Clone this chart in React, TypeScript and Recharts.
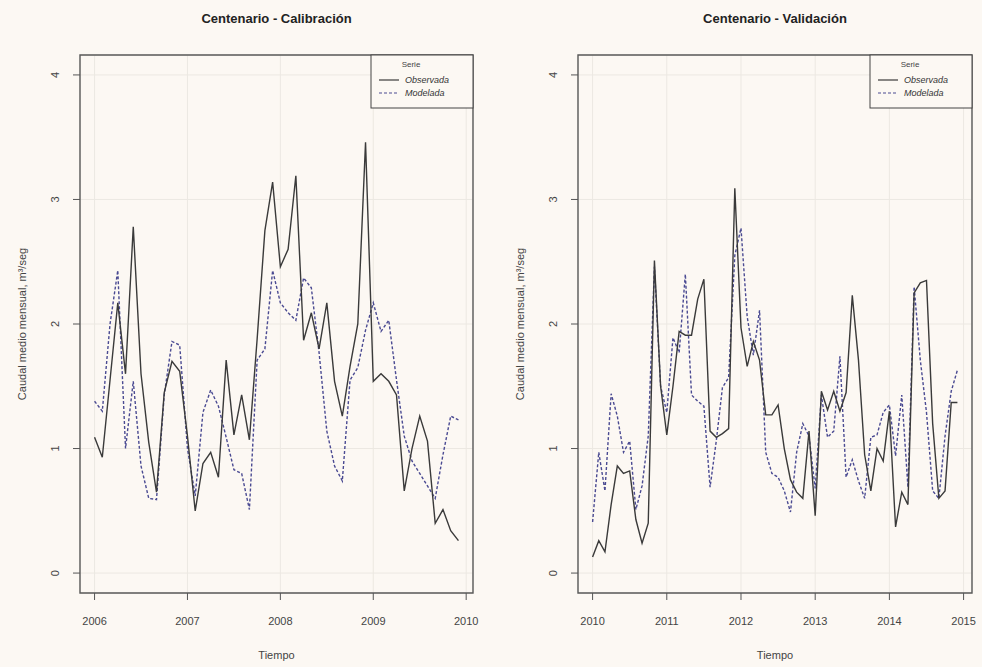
import { CartesianGrid, Line, LineChart, ReferenceArea, XAxis, YAxis } from "recharts";

// Calibration period, monthly, Jan 2006 - Dec 2009 (m3/s)
const calObservada = [
  1.09, 0.93, 1.55, 2.17, 1.6, 2.78, 1.6, 1.05, 0.65, 1.45, 1.7, 1.62,
  1.1, 0.5, 0.88, 0.97, 0.77, 1.71, 1.11, 1.43, 1.07, 1.88, 2.75, 3.14,
  2.46, 2.6, 3.19, 1.87, 2.09, 1.8, 2.17, 1.54, 1.26, 1.66, 2.0, 3.46,
  1.54, 1.6, 1.54, 1.43, 0.66, 1.0, 1.26, 1.06, 0.4, 0.51, 0.34, 0.26,
];
const calModelada = [
  1.38, 1.3, 2.0, 2.43, 1.0, 1.54, 0.86, 0.6, 0.59, 1.43, 1.86, 1.83,
  1.0, 0.62, 1.29, 1.47, 1.34, 1.09, 0.83, 0.8, 0.51, 1.71, 1.8, 2.43,
  2.17, 2.09, 2.03, 2.37, 2.29, 1.77, 1.14, 0.86, 0.74, 1.55, 1.65, 1.95,
  2.17, 1.94, 2.03, 1.55, 1.1, 0.9, 0.8, 0.7, 0.6, 0.95, 1.26, 1.23,
];

// Validation period, monthly, Jan 2010 - Dec 2014 (m3/s)
const valObservada = [
  0.13, 0.26, 0.17, 0.55, 0.86, 0.8, 0.82, 0.43, 0.24, 0.4, 2.51, 1.5,
  1.11, 1.5, 1.94, 1.91, 1.91, 2.2, 2.36, 1.14, 1.09, 1.12, 1.16, 3.09,
  1.97, 1.66, 1.86, 1.71, 1.27, 1.27, 1.35, 1.0, 0.75, 0.65, 0.6, 1.14,
  0.46, 1.46, 1.31, 1.46, 1.3, 1.45, 2.23, 1.71, 0.95, 0.66, 1.0, 0.9,
  1.3, 0.37, 0.65, 0.55, 2.25, 2.33, 2.35, 1.2, 0.6, 0.66, 1.37, 1.37,
];
const valModelada = [
  0.41, 0.97, 0.66, 1.44, 1.26, 0.97, 1.06, 0.51, 0.7, 1.1, 2.46, 1.5,
  1.29, 1.89, 1.77, 2.4, 1.43, 1.38, 1.34, 0.69, 1.06, 1.49, 1.57, 2.55,
  2.77, 2.06, 1.75, 2.11, 0.97, 0.8, 0.77, 0.66, 0.49, 0.97, 1.2, 1.1,
  0.68, 1.43, 1.09, 1.14, 1.74, 0.77, 0.91, 0.74, 0.6, 1.09, 1.11, 1.29,
  1.35, 0.94, 1.43, 0.69, 2.3, 1.71, 1.29, 0.66, 0.6, 1.1, 1.46, 1.63,
];

const calYears = [2006, 2007, 2008, 2009, 2010];
const valYears = [2010, 2011, 2012, 2013, 2014, 2015];
const yTicks = [0, 1, 2, 3, 4];

const BG = "#fcf8f3";
const FONT = "'Liberation Sans', Arial, sans-serif";

function toSeries(start: number, obs: number[], mod: number[]) {
  return obs.map((v, i) => ({ t: start + i / 12, obs: v, mod: mod[i] }));
}

// R-style 4% padding around the data range
function padded(lo: number, hi: number): [number, number] {
  const p = (hi - lo) * 0.04;
  return [lo - p, hi + p];
}

const Y_DOMAIN = padded(0, 4);

function YTick({ x, y, payload }: any) {
  return (
    <g transform={`translate(${x - 4},${y})`}>
      <text transform="rotate(-90)" textAnchor="middle" fontSize={11} fill="#444" fontFamily={FONT}>
        {payload.value}
      </text>
    </g>
  );
}

type PanelProps = {
  title: string;
  start: number;
  obs: number[];
  mod: number[];
  years: number[];
  left: number;
  padLeft: number;
  padRight: number;
};

const W = 491;
const H = 667;
const TOP = 55;
const BOTTOM = 593;

function Panel({ title, start, obs, mod, years, left, padLeft, padRight }: PanelProps) {
  const data = toSeries(start, obs, mod);
  const xDomain = padded(start, start + (obs.length - 1) / 12);
  const plotLeft = padLeft + 40;
  const plotRight = W - padRight;
  const cx = (plotLeft + plotRight) / 2;
  const cy = (TOP + BOTTOM) / 2;
  const lx = plotRight - 102;

  return (
    <div style={{ position: "absolute", left, top: 0, width: W, height: H }}>
      <LineChart
        width={W}
        height={H}
        data={data}
        margin={{ top: TOP, right: padRight, bottom: H - BOTTOM - 70, left: padLeft }}
      >
        <CartesianGrid stroke="#ece8e2" strokeWidth={1} />
        <XAxis
          dataKey="t"
          type="number"
          domain={xDomain}
          ticks={years}
          allowDataOverflow
          height={70}
          axisLine={false}
          tickSize={7}
          tickMargin={17}
          tickLine={{ stroke: "#555" }}
          tick={{ fontSize: 11, fill: "#444", fontFamily: FONT }}
        />
        <YAxis
          type="number"
          domain={Y_DOMAIN}
          ticks={yTicks}
          allowDataOverflow
          width={40}
          axisLine={false}
          tickSize={7}
          tickMargin={10}
          tickLine={{ stroke: "#555" }}
          tick={<YTick />}
        />
        <ReferenceArea
          x1={xDomain[0]}
          x2={xDomain[1]}
          y1={Y_DOMAIN[0]}
          y2={Y_DOMAIN[1]}
          fill="none"
          stroke="#5a5a5a"
          strokeWidth={1.4}
        />
        <Line
          dataKey="mod"
          type="linear"
          stroke="#4a4a92"
          strokeWidth={1.4}
          strokeDasharray="3 2"
          dot={false}
          isAnimationActive={false}
        />
        <Line
          dataKey="obs"
          type="linear"
          stroke="#3a3a3a"
          strokeWidth={1.4}
          dot={false}
          isAnimationActive={false}
        />
      </LineChart>
      <svg
        width={W}
        height={H}
        style={{ position: "absolute", left: 0, top: 0, pointerEvents: "none" }}
        fontFamily={FONT}
      >
        <text x={cx} y={23} textAnchor="middle" fontSize={13} fontWeight="bold" fill="#222">
          {title}
        </text>
        <text x={cx} y={659} textAnchor="middle" fontSize={11} fill="#444">
          Tiempo
        </text>
        <text
          transform={`translate(${plotLeft - 54},${cy}) rotate(-90)`}
          textAnchor="middle"
          fontSize={11}
          fill="#444"
        >
          Caudal medio mensual, m³/seg
        </text>
        {/* legend box, top right corner of the plot */}
        <rect x={lx} y={TOP} width={102} height={53} fill={BG} stroke="#444" strokeWidth={1} />
        <text x={lx + 40} y={TOP + 12} textAnchor="middle" fontSize={8} fill="#444">
          Serie
        </text>
        <line x1={lx + 8} x2={lx + 28} y1={TOP + 25} y2={TOP + 25} stroke="#3a3a3a" strokeWidth={1.2} />
        <line
          x1={lx + 8}
          x2={lx + 28}
          y1={TOP + 38}
          y2={TOP + 38}
          stroke="#4a4a92"
          strokeWidth={1.2}
          strokeDasharray="3 2"
        />
        <text x={lx + 34} y={TOP + 28} fontSize={9} fontStyle="italic" fill="#333">
          Observada
        </text>
        <text x={lx + 34} y={TOP + 41} fontSize={9} fontStyle="italic" fill="#333">
          Modelada
        </text>
      </svg>
    </div>
  );
}

export default function App() {
  return (
    <div style={{ position: "fixed", left: 0, top: 0, width: 982, height: 667, background: BG }}>
      <Panel
        title="Centenario - Calibración"
        start={2006}
        obs={calObservada}
        mod={calModelada}
        years={calYears}
        left={0}
        padLeft={40}
        padRight={18}
      />
      <Panel
        title="Centenario - Validación"
        start={2010}
        obs={valObservada}
        mod={valModelada}
        years={valYears}
        left={491}
        padLeft={47}
        padRight={10}
      />
    </div>
  );
}
